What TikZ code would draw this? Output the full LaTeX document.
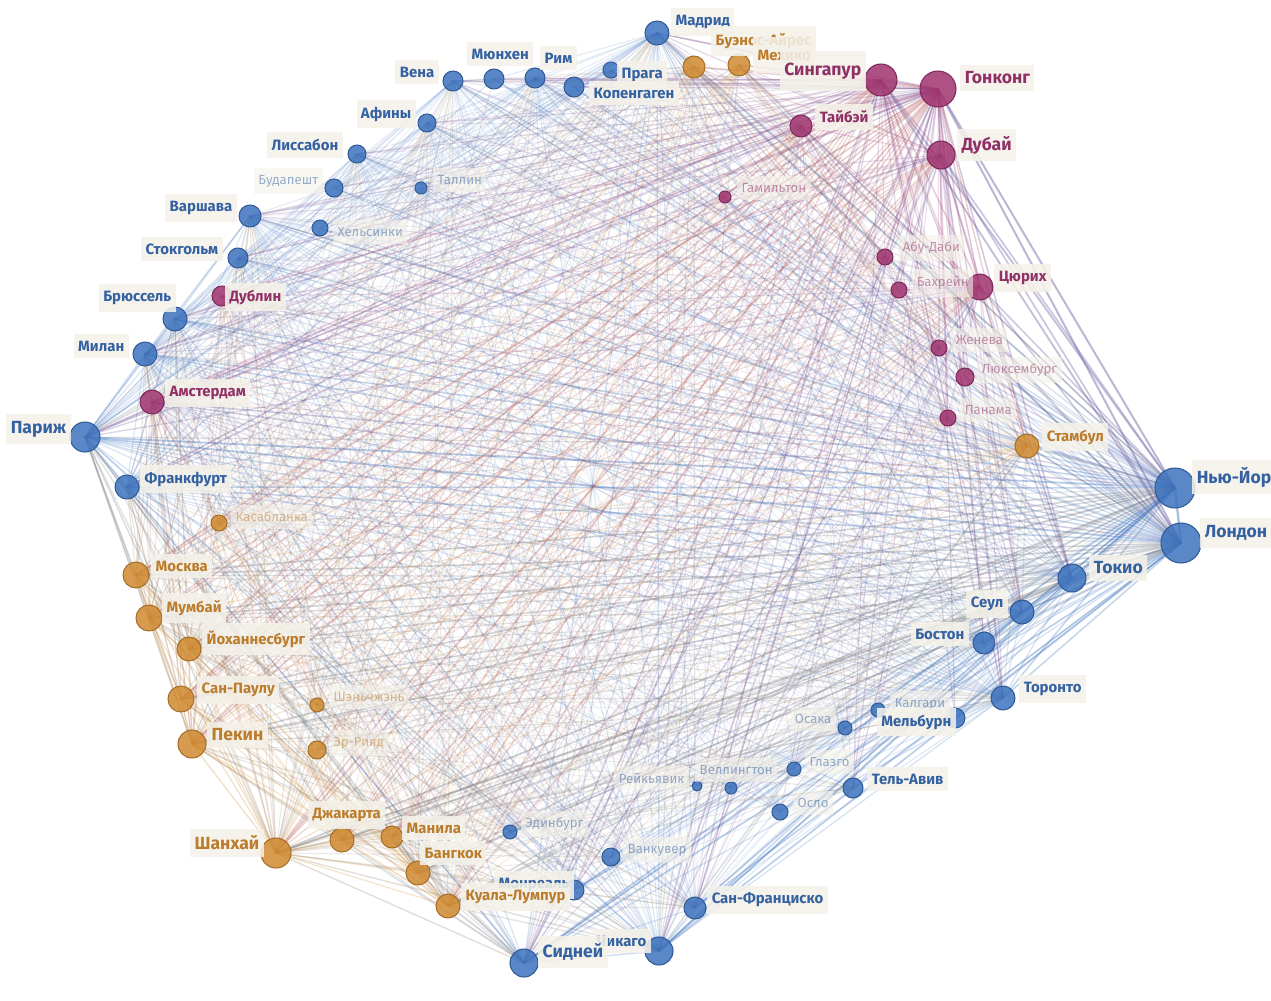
\documentclass[tikz,border=0pt]{standalone}
\usepackage{fontspec}
\setmainfont{Fira Sans}
\usetikzlibrary{backgrounds}

\definecolor{cityblue}{HTML}{3C72BD}
\definecolor{cityorange}{HTML}{D08A30}
\definecolor{citypink}{HTML}{A03470}
\definecolor{tagbg}{HTML}{F4F1E9}

\tikzset{
  city/.style={circle, inner sep=0pt, fill=#1, fill opacity=0.85, draw=#1!80!black, line width=0.6pt},
  tag/.style={fill=tagbg, fill opacity=0.88, text opacity=1, inner xsep=2.5pt, inner ysep=4pt,
    font=\fontsize{8.5}{10}\selectfont\bfseries},
  btag/.style={tag, text=cityblue!85!black},
  otag/.style={tag, text=cityorange!90!black},
  ptag/.style={tag, text=citypink!90!black},
  faint/.style={fill opacity=0.6, text opacity=0.5, font=\fontsize{7.5}{9}\selectfont},
  big/.style={font=\fontsize{10}{12}\selectfont\bfseries},
  link/.style={line cap=round},
}

% name / x / y / radius / colour (pixels of the 1271x1001 sheet)
\def\citylist{
  madrid/657/33/12/cityblue, vienna/453/81/10/cityblue, munich/494/79/10/cityblue,
  rome/535/78/10/cityblue, prague/611/70/8/cityblue, copenhagen/574/87/10/cityblue,
  athens/427/123/9/cityblue, lisbon/357/154/9/cityblue, budapest/334/188/9/cityblue,
  tallinn/421/188/6/cityblue, warsaw/250/216/11/cityblue, helsinki/320/228/8/cityblue,
  stockholm/238/258/10/cityblue, dublin/222/296/10/citypink, brussels/175/319/12/cityblue,
  milan/145/354/12/cityblue, amsterdam/152/402/12/citypink, paris/85/437/15/cityblue,
  frankfurt/127/487/12/cityblue, newyork/1175/488/20/cityblue, london/1181/543/20/cityblue,
  tokyo/1072/578/14/cityblue, seoul/1022/612/12/cityblue, boston/984/643/11/cityblue,
  toronto/1003/698/12/cityblue, calgary/878/710/7/cityblue, melbourne/955/718/10/cityblue,
  osaka/845/728/7/cityblue, glasgow/794/769/7/cityblue, reykjavik/697/786/5/cityblue,
  wellington/731/788/6/cityblue, telaviv/853/788/10/cityblue, oslo/780/812/8/cityblue,
  edinburgh/510/832/7/cityblue, vancouver/611/857/9/cityblue, montreal/574/890/10/cityblue,
  sanfrancisco/695/908/11/cityblue, sydney/524/963/14/cityblue, chicago/659/951/14/cityblue,
  buenosaires/694/67/11/cityorange, mexico/739/65/11/cityorange, istanbul/1027/446/12/cityorange,
  casablanca/219/523/8/cityorange, moscow/136/575/13/cityorange, mumbai/149/618/13/cityorange,
  johannesburg/189/649/12/cityorange, saopaulo/181/699/13/cityorange, shenzhen/317/705/7/cityorange,
  beijing/192/744/14/cityorange, riyadh/317/750/9/cityorange, shanghai/276/853/15/cityorange,
  jakarta/342/840/12/cityorange, manila/392/837/11/cityorange, bangkok/418/873/12/cityorange,
  kualalumpur/448/906/12/cityorange,
  singapore/881/80/16/citypink, hongkong/938/89/18/citypink, taipei/801/126/11/citypink,
  dubai/941/155/14/citypink, hamilton/725/197/6/citypink, abudhabi/885/257/8/citypink,
  bahrain/899/290/8/citypink, zurich/980/287/13/citypink, geneva/939/348/8/citypink,
  luxembourg/965/377/9/citypink, panama/948/418/8/citypink}

\begin{document}
\begin{tikzpicture}[x=0.2mm, y=-0.2mm]
\useasboundingbox (0,0) rectangle (1271,1001);
\clip (0,0) rectangle (1271,1001);

% cities
\foreach \n/\x/\y/\r/\c in \citylist {
  \node[city=\c, minimum size={0.4mm*\r}] (\n) at (\x,\y) {};
}

% links: big pairs always, small pairs two times out of three
\begin{pgfonlayer}{background}
\foreach \na/\xa/\ya/\wa/\ka [count=\i] in \citylist {
  \foreach \nb/\xb/\yb/\wb/\kb [count=\j] in \citylist {
    \ifnum\j>\i
      \pgfmathtruncatemacro\keep{(\wa*\wb>=144) || (mod(\i*\j+\i,3)>0)}
      \ifnum\keep=1
        \pgfmathsetmacro\eop{min(0.5,0.03+\wa*\wb/900)}
        \pgfmathsetmacro\ewd{0.3+\wa*\wb/420}
        \ifnum\wa<\wb \def\ecol{\kb!60!\ka}\else\def\ecol{\ka!60!\kb}\fi
        \draw[link, draw=\ecol, draw opacity=\eop, line width=\ewd pt] (\na.center) -- (\nb.center);
      \fi
    \fi
  }
}
\end{pgfonlayer}

% labels
\node[btag, anchor=west] (madridT) at (671,22) {Мадрид};
\node[btag, anchor=east] (viennaT) at (439,72) {Вена};
\node[btag, anchor=west] (munichT) at (467,54) {Мюнхен};
\node[btag, anchor=west] (romeT) at (540,58) {Рим};
\node[btag, anchor=west] (pragueT) at (617,75) {Прага};
\node[btag, anchor=west] (copenhagenT) at (589,93) {Копенгаген};
\node[btag, anchor=east] (athensT) at (416,114) {Афины};
\node[btag, anchor=east] (lisbonT) at (343,145) {Лиссабон};
\node[btag, faint, anchor=east] (budapestT) at (323,181) {Будапешт};
\node[btag, faint, anchor=west] (tallinnT) at (433,180) {Таллин};
\node[btag, anchor=east] (warsawT) at (237,208) {Варшава};
\node[btag, faint, anchor=west] (helsinkiT) at (333,232) {Хельсинки};
\node[btag, anchor=east] (stockholmT) at (223,249) {Стокгольм};
\node[ptag, anchor=west] (dublinT) at (225,297) {Дублин};
\node[btag, anchor=east] (brusselsT) at (176,298) {Брюссель};
\node[btag, anchor=east] (milanT) at (129,346) {Милан};
\node[ptag, anchor=west] (amsterdamT) at (165,393) {Амстердам};
\node[btag, big, anchor=east] (parisT) at (71,429) {Париж};
\node[btag, anchor=west] (frankfurtT) at (140,479) {Франкфурт};
\node[btag, big, anchor=west] (newyorkT) at (1192,477) {Нью-Йорк};
\node[btag, big, anchor=west] (londonT) at (1200,533) {Лондон};
\node[btag, big, anchor=west] (tokyoT) at (1089,568) {Токио};
\node[btag, anchor=east] (seoulT) at (1008,604) {Сеул};
\node[btag, anchor=east] (bostonT) at (969,634) {Бостон};
\node[btag, anchor=west] (torontoT) at (1019,689) {Торонто};
\node[btag, faint, anchor=west] (calgaryT) at (890,704) {Калгари};
\node[btag, anchor=east] (melbourneT) at (956,722) {Мельбурн};
\node[btag, faint, anchor=east] (osakaT) at (836,719) {Осака};
\node[btag, faint, anchor=west] (glasgowT) at (805,762) {Глазго};
\node[btag, faint, anchor=east] (reykjavikT) at (689,778) {Рейкьявик};
\node[btag, faint, anchor=west] (wellingtonT) at (695,770) {Веллингтон};
\node[btag, anchor=west] (telavivT) at (867,779) {Тель-Авив};
\node[btag, faint, anchor=west] (osloT) at (793,803) {Осло};
\node[btag, faint, anchor=west] (edinburghT) at (521,824) {Эдинбург};
\node[btag, faint, anchor=west] (vancouverT) at (623,850) {Ванкувер};
\node[btag, anchor=west] (montrealT) at (494,885) {Монреаль};
\node[btag, anchor=west] (sanfranciscoT) at (707,900) {Сан-Франциско};
\node[btag, anchor=east] (chicagoT) at (651,941) {Чикаго};
\node[btag, big, anchor=west] (sydneyT) at (538,952) {Сидней};

\node[otag, anchor=west] (buenosairesT) at (711,41) {Буэнос-Айрес};
\node[otag, anchor=west, inner ysep=7pt] (mexicoT) at (753,55) {Мехико};
\node[otag, anchor=west] (istanbulT) at (1042,437) {Стамбул};
\node[otag, faint, anchor=west] (casablancaT) at (231,517) {Касабланка};
\node[otag, anchor=west] (moscowT) at (151,566) {Москва};
\node[otag, anchor=west] (mumbaiT) at (162,608) {Мумбай};
\node[otag, anchor=west] (johannesburgT) at (202,639) {Йоханнесбург};
\node[otag, anchor=west] (saopauloT) at (197,690) {Сан-Паулу};
\node[otag, faint, anchor=west] (shenzhenT) at (329,697) {Шэньчжэнь};
\node[otag, big, anchor=west] (beijingT) at (207,735) {Пекин};
\node[otag, faint, anchor=west] (riyadhT) at (329,743) {Эр-Рияд};
\node[otag, big, anchor=east] (shanghaiT) at (264,843) {Шанхай};
\node[otag, anchor=west] (jakartaT) at (308,815) {Джакарта};
\node[otag, anchor=west] (manilaT) at (402,828) {Манила};
\node[otag, anchor=west] (bangkokT) at (420,853) {Бангкок};
\node[otag, anchor=west] (kualalumpurT) at (461,897) {Куала-Лумпур};

\node[ptag, big, anchor=east, inner ysep=7pt] (singaporeT) at (866,71) {Сингапур};
\node[ptag, big, anchor=west] (hongkongT) at (960,78) {Гонконг};
\node[ptag, anchor=west] (taipeiT) at (815,117) {Тайбэй};
\node[ptag, big, anchor=west] (dubaiT) at (957,145) {Дубай};
\node[ptag, faint, anchor=west] (hamiltonT) at (737,188) {Гамильтон};
\node[ptag, faint, anchor=west] (abudhabiT) at (898,248) {Абу-Даби};
\node[ptag, faint, anchor=west] (bahrainT) at (912,283) {Бахрейн};
\node[ptag, anchor=west] (zurichT) at (994,278) {Цюрих};
\node[ptag, faint, anchor=west] (genevaT) at (951,340) {Женева};
\node[ptag, faint, anchor=west] (luxembourgT) at (977,370) {Люксембург};
\node[ptag, faint, anchor=west] (panamaT) at (960,410) {Панама};
\end{tikzpicture}
\end{document}
